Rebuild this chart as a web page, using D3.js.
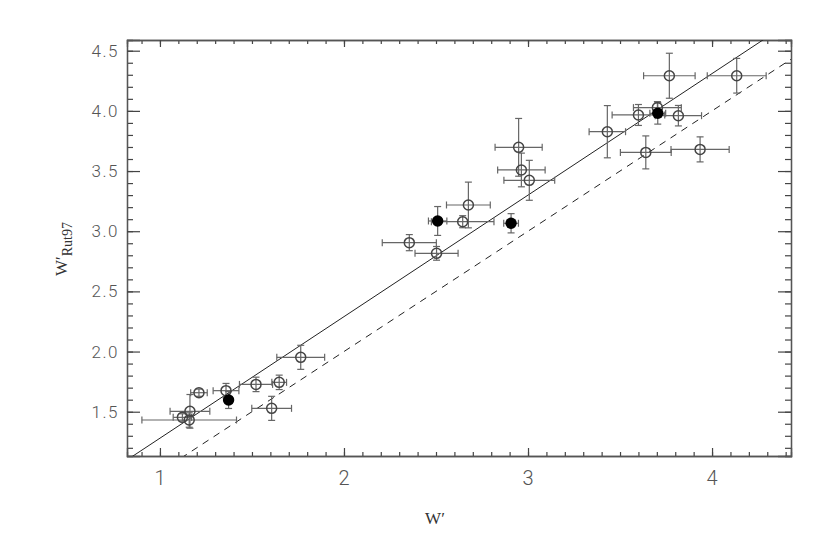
<!DOCTYPE html>
<html>
<head>
<meta charset="utf-8">
<script src="https://cdn.jsdelivr.net/npm/d3@7"></script>
<style>
  body { margin: 0; background: #fff; }
  .tick-label { font-family: Roboto, "DejaVu Sans", sans-serif; font-weight: 300; fill: #555; }
  .axis-title { font-family: "Liberation Serif", "DejaVu Serif", serif; fill: #333; }
</style>
</head>
<body>
<div id="chart"></div>
<script>
// open circles: W' (x), W'Rut97 (y) and their errors
var openX    = [1.122, 1.163, 1.159, 1.212, 1.359, 1.522, 1.648, 1.607, 1.765,
                2.355, 2.503, 2.645, 2.676, 2.949, 2.964, 3.007,
                3.431, 3.600, 3.703, 3.817, 3.640, 3.935, 3.768, 4.134];
var openY    = [1.453, 1.503, 1.431, 1.658, 1.675, 1.727, 1.744, 1.528, 1.952,
                2.905, 2.816, 3.079, 3.218, 3.697, 3.509, 3.423,
                3.827, 3.966, 4.027, 3.960, 3.655, 3.680, 4.292, 4.292];
var openXErr = [0.05, 0.108, 0.257, 0.045, 0.07, 0.09, 0.04, 0.108, 0.13,
                0.147, 0.117, 0.17, 0.119, 0.128, 0.129, 0.138,
                0.099, 0.143, 0.13, 0.126, 0.138, 0.158, 0.14, 0.16];
var openYErr = [0.03, 0.14, 0.06, 0.03, 0.06, 0.06, 0.06, 0.10, 0.10,
                0.067, 0.057, 0.05, 0.19, 0.24, 0.14, 0.166,
                0.217, 0.087, 0.05, 0.085, 0.137, 0.104, 0.187, 0.144];

// filled circles
var fillX    = [1.373, 2.509, 2.908, 3.705];
var fillY    = [1.597, 3.085, 3.066, 3.980];
var fillXErr = [0.02, 0.05, 0.04, 0.043];
var fillYErr = [0.07, 0.12, 0.08, 0.09];

var xTicks = [1, 2, 3, 4];
var yTicks = [1.5, 2.0, 2.5, 3.0, 3.5, 4.0, 4.5];

// fit line (solid) and one-to-one line (dashed)
var fitSlope = 1.01, fitIntercept = 0.27;

function init() {
    var w = 830, h = 537;
    var left = 127, right = 791, top = 40, bottom = 456;

    var svg = d3.select("#chart").append("svg")
                .attr("width", w).attr("height", h);

    var x = d3.scaleLinear().domain([0.821, 4.429]).range([left, right]);
    var y = d3.scaleLinear().domain([1.132, 4.589]).range([bottom, top]);

    svg.append("clipPath").attr("id", "clip")
       .append("rect")
       .attr("x", left).attr("y", top)
       .attr("width", right - left).attr("height", bottom - top);

    // axes with inward ticks on all four sides
    var xMinor = d3.range(9, 45).map(function(d) { return d / 10; });
    var yMinor = d3.range(12, 46).map(function(d) { return d / 10; });

    svg.append("g").attr("transform", "translate(0," + bottom + ")")
       .call(d3.axisBottom(x).tickValues(xMinor).tickSize(-4).tickFormat(""));
    svg.append("g").attr("transform", "translate(0," + bottom + ")")
       .call(d3.axisBottom(x).tickValues(xTicks).tickSize(-8).tickFormat(""));
    svg.append("g").attr("transform", "translate(0," + top + ")")
       .call(d3.axisTop(x).tickValues(xMinor).tickSize(-4).tickFormat(""));
    svg.append("g").attr("transform", "translate(0," + top + ")")
       .call(d3.axisTop(x).tickValues(xTicks).tickSize(-7).tickFormat(""));
    svg.append("g").attr("transform", "translate(" + left + ",0)")
       .call(d3.axisLeft(y).tickValues(yMinor).tickSize(-6).tickFormat(""));
    svg.append("g").attr("transform", "translate(" + left + ",0)")
       .call(d3.axisLeft(y).tickValues(yTicks).tickSize(-13).tickFormat(""));
    svg.append("g").attr("transform", "translate(" + right + ",0)")
       .call(d3.axisRight(y).tickValues(yMinor).tickSize(-6).tickFormat(""));
    svg.append("g").attr("transform", "translate(" + right + ",0)")
       .call(d3.axisRight(y).tickValues(yTicks).tickSize(-13).tickFormat(""));

    svg.selectAll(".domain").attr("stroke", "#555").attr("stroke-width", 1.3);
    svg.selectAll(".tick line").attr("stroke", "#444").attr("stroke-width", 1.2);

    // tick labels
    svg.selectAll(".xlab").data(xTicks).enter().append("text")
       .attr("class", "tick-label")
       .attr("x", function(d) { return x(d); })
       .attr("y", 485)
       .attr("text-anchor", "middle")
       .style("font-size", "20px")
       .text(function(d) { return d; });

    svg.selectAll(".ylab").data(yTicks).enter().append("text")
       .attr("class", "tick-label")
       .attr("x", 119)
       .attr("y", function(d) { return y(d) + 6; })
       .attr("text-anchor", "end")
       .style("font-size", "17px")
       .style("letter-spacing", "1.5px")
       .text(function(d) { return d.toFixed(1); });

    // axis titles
    svg.append("text").attr("class", "axis-title")
       .attr("x", 435).attr("y", 524)
       .attr("text-anchor", "middle")
       .style("font-size", "17px")
       .text("W\u2032");

    var yt = svg.append("text").attr("class", "axis-title")
       .attr("transform", "translate(67,276) rotate(-90)")
       .style("font-size", "17px");
    yt.append("tspan").text("W\u2032");
    yt.append("tspan").attr("dy", 5).style("font-size", "14px").text("Rut97");

    // lines
    var plot = svg.append("g").attr("clip-path", "url(#clip)");
    var xs = [0.7, 4.6];
    plot.append("line")
        .attr("x1", x(xs[0])).attr("y1", y(fitSlope * xs[0] + fitIntercept))
        .attr("x2", x(xs[1])).attr("y2", y(fitSlope * xs[1] + fitIntercept))
        .attr("stroke", "#222").attr("stroke-width", 1);
    plot.append("line")
        .attr("x1", x(xs[0])).attr("y1", y(xs[0]))
        .attr("x2", x(xs[1])).attr("y2", y(xs[1]))
        .attr("stroke", "#222").attr("stroke-width", 1)
        .attr("stroke-dasharray", "7,6");

    function errorBars(xv, yv, xe, ye) {
        var cap = 3.5;
        var g = svg.append("g").attr("stroke", "#666").attr("stroke-width", 1.2);
        xv.forEach(function(d, i) {
            var cx = x(d), cy = y(yv[i]);
            var x0 = x(d - xe[i]), x1 = x(d + xe[i]);
            var y0 = y(yv[i] - ye[i]), y1 = y(yv[i] + ye[i]);
            g.append("line").attr("x1", x0).attr("x2", x1).attr("y1", cy).attr("y2", cy);
            g.append("line").attr("x1", x0).attr("x2", x0).attr("y1", cy - cap).attr("y2", cy + cap);
            g.append("line").attr("x1", x1).attr("x2", x1).attr("y1", cy - cap).attr("y2", cy + cap);
            g.append("line").attr("x1", cx).attr("x2", cx).attr("y1", y0).attr("y2", y1);
            g.append("line").attr("x1", cx - cap).attr("x2", cx + cap).attr("y1", y0).attr("y2", y0);
            g.append("line").attr("x1", cx - cap).attr("x2", cx + cap).attr("y1", y1).attr("y2", y1);
        });
    }

    errorBars(openX, openY, openXErr, openYErr);
    errorBars(fillX, fillY, fillXErr, fillYErr);

    svg.selectAll(".open").data(openX).enter().append("circle")
       .attr("cx", function(d) { return x(d); })
       .attr("cy", function(d, i) { return y(openY[i]); })
       .attr("r", 5)
       .attr("fill", "none")
       .attr("stroke", "#444")
       .attr("stroke-width", 1.5);

    svg.selectAll(".filled").data(fillX).enter().append("circle")
       .attr("cx", function(d) { return x(d); })
       .attr("cy", function(d, i) { return y(fillY[i]); })
       .attr("r", 5.7)
       .attr("fill", "#000");
}

window.onload = init;
</script>
</body>
</html>
